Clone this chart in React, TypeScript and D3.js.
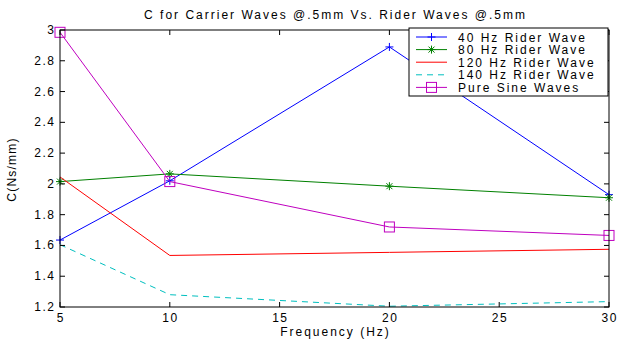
import { useEffect, useRef } from "react";
import * as d3 from "d3";

const freqs = [5, 10, 20, 30];
const hz40 = [1.635, 2.02, 2.89, 1.93];
const hz80 = [2.015, 2.065, 1.985, 1.91];
const hz120 = [2.045, 1.535, 1.555, 1.575];
const hz140 = [1.605, 1.28, 1.205, 1.235];
const pureSine = [2.985, 2.015, 1.72, 1.665];

const xTicks = [5, 10, 15, 20, 25, 30];
const yTicks = [1.2, 1.4, 1.6, 1.8, 2, 2.2, 2.4, 2.6, 2.8, 3];

const seriesNames = [
  "40 Hz Rider Wave",
  "80 Hz Rider Wave",
  "120 Hz Rider Wave",
  "140 Hz Rider Wave",
  "Pure Sine Waves",
];

type Marker = "plus" | "star" | "none" | "square";
interface Series { name: string; values: number[]; color: string; marker: Marker; dash?: string }

const series: Series[] = [
  { name: seriesNames[0], values: hz40, color: "#0000ff", marker: "plus" },
  { name: seriesNames[1], values: hz80, color: "#008000", marker: "star" },
  { name: seriesNames[2], values: hz120, color: "#ff0000", marker: "none" },
  { name: seriesNames[3], values: hz140, color: "#00bfbf", marker: "none", dash: "6,5" },
  { name: seriesNames[4], values: pureSine, color: "#bf00bf", marker: "square" },
];

const FONT = "'Liberation Sans', Arial, sans-serif";
const LS = 2; // MATLAB-style wide letter spacing
const LS_TICK = 1.5;

function drawMarker(g: d3.Selection<SVGGElement, unknown, null, undefined>, m: Marker, x: number, y: number, color: string) {
  if (m === "plus") {
    g.append("path").attr("d", `M${x - 4},${y}H${x + 4}M${x},${y - 4}V${y + 4}`)
      .attr("stroke", color).attr("fill", "none");
  } else if (m === "star") {
    g.append("path")
      .attr("d", `M${x - 4},${y}H${x + 4}M${x},${y - 4}V${y + 4}M${x - 3},${y - 3}L${x + 3},${y + 3}M${x - 3},${y + 3}L${x + 3},${y - 3}`)
      .attr("stroke", color).attr("fill", "none");
  } else if (m === "square") {
    g.append("rect").attr("x", x - 5).attr("y", y - 5).attr("width", 10).attr("height", 10)
      .attr("stroke", color).attr("fill", "none");
  }
}

export default function App() {
  const ref = useRef<SVGSVGElement>(null);

  useEffect(() => {
    if (!ref.current) return;
    const W = 618, H = 339;
    const ML = 60, MR = 9, MT = 30, MB = 32;
    const svg = d3.select(ref.current);
    svg.selectAll("*").remove();

    const x = d3.scaleLinear().domain([5, 30]).range([ML, W - MR]);
    const y = d3.scaleLinear().domain([1.2, 3]).range([H - MB, MT]);
    const g = svg.append("g");

    // Lines
    for (const s of series) {
      const line = d3.line<number>().x((_, i) => x(freqs[i])).y(v => y(v));
      g.append("path").attr("d", line(s.values))
        .attr("fill", "none").attr("stroke", s.color).attr("stroke-width", 1)
        .attr("stroke-dasharray", s.dash ?? null);
      s.values.forEach((v, i) => drawMarker(g, s.marker, x(freqs[i]), y(v), s.color));
    }

    // Box and ticks
    const x0 = x(5), x1 = x(30), y0 = y(1.2), y1 = y(3);
    svg.append("rect").attr("x", x0).attr("y", y1).attr("width", x1 - x0).attr("height", y0 - y1)
      .attr("fill", "none").attr("stroke", "#000").attr("stroke-width", 1);
    const tk = 5;
    xTicks.forEach(t => {
      const px = x(t);
      svg.append("path").attr("d", `M${px},${y0}V${y0 - tk}M${px},${y1}V${y1 + tk}`).attr("stroke", "#000");
      svg.append("text").attr("x", px + LS_TICK / 2).attr("y", y0 + 15).attr("text-anchor", "middle")
        .attr("font-family", FONT).attr("font-size", 12).attr("letter-spacing", LS_TICK).text(t);
    });
    yTicks.forEach(t => {
      const py = y(t);
      svg.append("path").attr("d", `M${x0},${py}H${x0 + tk}M${x1},${py}H${x1 - tk}`).attr("stroke", "#000");
      svg.append("text").attr("x", x0 - 6 + LS_TICK).attr("y", py + 4).attr("text-anchor", "end")
        .attr("font-family", FONT).attr("font-size", 12).attr("letter-spacing", LS_TICK)
        .text(d3.format("~g")(t));
    });

    // Labels
    svg.append("text").attr("x", (x0 + x1) / 2 + LS / 2).attr("y", 19).attr("text-anchor", "middle")
      .attr("font-family", FONT).attr("font-size", 12).attr("letter-spacing", LS)
      .text("C for Carrier Waves @.5mm Vs. Rider Waves @.5mm");
    svg.append("text").attr("x", (x0 + x1) / 2 + LS / 2).attr("y", 336).attr("text-anchor", "middle")
      .attr("font-family", FONT).attr("font-size", 12).attr("letter-spacing", LS).text("Frequency (Hz)");
    svg.append("text").attr("transform", `translate(16,${(y0 + y1) / 2 + 1}) rotate(-90)`)
      .attr("text-anchor", "middle").attr("font-family", FONT).attr("font-size", 12)
      .attr("letter-spacing", 1.2).text("C(Ns/mm)");

    // Legend
    const lx = 409, ly = 28, lw = 199, lh = 68;
    const lg = svg.append("g");
    lg.append("rect").attr("x", lx).attr("y", ly).attr("width", lw).attr("height", lh)
      .attr("fill", "#fff").attr("stroke", "#000");
    series.forEach((s, i) => {
      const ry = ly + 9 + i * 12.6;
      lg.append("path").attr("d", `M${lx + 7},${ry}H${lx + 38}`)
        .attr("stroke", s.color).attr("fill", "none").attr("stroke-dasharray", s.dash ?? null);
      drawMarker(lg, s.marker, lx + 22.5, ry, s.color);
      lg.append("text").attr("x", lx + 49).attr("y", ry + 4.5)
        .attr("font-family", FONT).attr("font-size", 12).attr("letter-spacing", LS).text(s.name);
    });
  }, []);

  return (
    <svg ref={ref} width={618} height={339}
      style={{ position: "absolute", left: 0, top: 0, background: "#fff" }} />
  );
}
